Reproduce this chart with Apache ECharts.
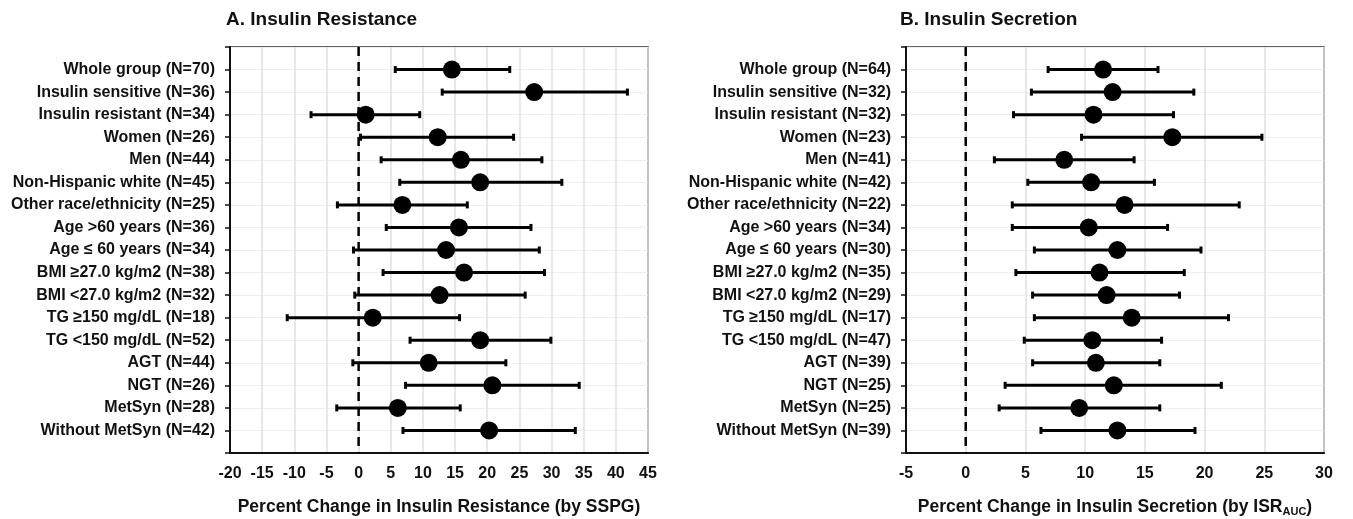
<!DOCTYPE html>
<html>
<head>
<meta charset="utf-8">
<script src="https://cdn.jsdelivr.net/npm/echarts@6/dist/echarts.min.js"></script>
<style>
  html, body { margin: 0; padding: 0; background: #fff; }
  #chart { width: 1353px; height: 519px; }
</style>
</head>
<body>
<div id="chart"></div>
<script>
// data
var groupsA = ['Whole group (N=70)', 'Insulin sensitive (N=36)', 'Insulin resistant (N=34)', 'Women (N=26)', 'Men (N=44)',
  'Non-Hispanic white (N=45)', 'Other race/ethnicity (N=25)', 'Age >60 years (N=36)', 'Age \u2264 60 years (N=34)',
  'BMI \u226527.0 kg/m2 (N=38)', 'BMI <27.0 kg/m2 (N=32)', 'TG \u2265150 mg/dL (N=18)', 'TG <150 mg/dL (N=52)',
  'AGT (N=44)', 'NGT (N=26)', 'MetSyn (N=28)', 'Without MetSyn (N=42)'];
var meanA = [14.5, 27.3, 1.1, 12.3, 15.9, 18.9, 6.8, 15.6, 13.6, 16.4, 12.6, 2.2, 18.9, 10.9, 20.8, 6.1, 20.3];
var lowA  = [5.7, 13.0, -7.4, 0.3, 3.5, 6.4, -3.3, 4.3, -0.8, 3.8, -0.6, -11.1, 8.0, -0.9, 7.3, -3.4, 6.9];
var highA = [23.5, 41.8, 9.5, 24.1, 28.5, 31.6, 16.9, 26.8, 28.1, 28.9, 25.9, 15.7, 29.9, 22.9, 34.3, 15.8, 33.7];

var groupsB = ['Whole group (N=64)', 'Insulin sensitive (N=32)', 'Insulin resistant (N=32)', 'Women (N=23)', 'Men (N=41)',
  'Non-Hispanic white (N=42)', 'Other race/ethnicity (N=22)', 'Age >60 years (N=34)', 'Age \u2264 60 years (N=30)',
  'BMI \u226527.0 kg/m2 (N=35)', 'BMI <27.0 kg/m2 (N=29)', 'TG \u2265150 mg/dL (N=17)', 'TG <150 mg/dL (N=47)',
  'AGT (N=39)', 'NGT (N=25)', 'MetSyn (N=25)', 'Without MetSyn (N=39)'];
var meanB = [11.5, 12.3, 10.7, 17.3, 8.25, 10.5, 13.3, 10.3, 12.7, 11.2, 11.8, 13.9, 10.6, 10.9, 12.4, 9.5, 12.7];
var lowB  = [6.9, 5.5, 4.0, 9.7, 2.4, 5.2, 3.9, 3.9, 5.75, 4.2, 5.6, 5.75, 4.9, 5.6, 3.3, 2.8, 6.3];
var highB = [16.1, 19.1, 17.4, 24.8, 14.1, 15.8, 22.9, 16.9, 19.7, 18.3, 17.9, 22.0, 16.4, 16.25, 21.4, 16.25, 19.2];

var myChart = echarts.init(document.getElementById('chart'));
var font = 'Liberation Sans, Arial, sans-serif';
var nRows = groupsA.length;

// rows sit at 1..17 on a 0..18 axis so there is a half step of space at each end
function barData(low, high) {
  return low.map(function (v, i) { return [v, high[i], i + 1]; });
}
function dotData(mean) {
  return mean.map(function (v, i) { return [v, i + 1]; });
}

function renderBar(params, api) {
  var lo = api.coord([api.value(0), api.value(2)]);
  var hi = api.coord([api.value(1), api.value(2)]);
  var cap = 3.5;
  var st = { stroke: '#000', lineWidth: 3 };
  return {
    type: 'group',
    children: [
      { type: 'line', shape: { x1: lo[0], y1: lo[1], x2: hi[0], y2: hi[1] }, style: st },
      { type: 'line', shape: { x1: lo[0], y1: lo[1] - cap, x2: lo[0], y2: lo[1] + cap }, style: st },
      { type: 'line', shape: { x1: hi[0], y1: hi[1] - cap, x2: hi[0], y2: hi[1] + cap }, style: st }
    ]
  };
}

function yAxisOf(gi, cats) {
  return {
    type: 'value', gridIndex: gi, min: 0, max: nRows + 1, interval: 1, inverse: true,
    axisLine: { onZero: false, lineStyle: { color: '#111', width: 2 } },
    axisTick: { length: 5, lineStyle: { color: '#111', width: 1.5 } },
    axisLabel: {
      color: '#111', fontFamily: font, fontWeight: 'bold', fontSize: 16, margin: 15,
      formatter: function (v) { return cats[v - 1] || ''; }
    },
    splitLine: { show: true, lineStyle: { color: '#efefef', width: 1 } }
  };
}

function xAxisOf(gi, min, max, name) {
  return {
    type: 'value', gridIndex: gi, min: min, max: max, interval: 5,
    name: name, nameLocation: 'middle', nameGap: 45,
    nameTextStyle: {
      color: '#111', fontFamily: font, fontWeight: 'bold', fontSize: 17.5,
      rich: {
        a: { color: '#111', fontFamily: font, fontWeight: 'bold', fontSize: 17.5 },
        sub: { color: '#111', fontFamily: font, fontWeight: 'bold', fontSize: 11, verticalAlign: 'bottom', padding: [8, 0, 0, 0] }
      }
    },
    axisLine: { onZero: false, lineStyle: { color: '#111', width: 2 } },
    axisTick: { show: false },
    axisLabel: { color: '#111', fontFamily: font, fontWeight: 'bold', fontSize: 16, margin: 13 },
    splitLine: { show: true, lineStyle: { color: '#e0e0e0', width: 1.5 } }
  };
}

var zeroA = [[0, 0], [0, nRows + 1]];
var zeroB = [[0, 0], [0, nRows + 1]];

function zeroSeries(gi, data) {
  return {
    type: 'line', xAxisIndex: gi, yAxisIndex: gi, data: data, symbol: 'none', silent: true,
    lineStyle: { color: '#000', type: [9, 6], width: 2.5 }, z: 2
  };
}

var option = {
  animation: false,
  textStyle: { fontFamily: font },
  title: [
    { text: 'A. Insulin Resistance', left: 221, top: 5, textStyle: { fontFamily: font, fontSize: 19, fontWeight: 'bold', color: '#111' } },
    { text: 'B. Insulin Secretion', left: 895, top: 5, textStyle: { fontFamily: font, fontSize: 19, fontWeight: 'bold', color: '#111' } }
  ],
  grid: [
    { left: 230, right: 705, top: 47, bottom: 66, outerBoundsMode: 'none', show: true, borderColor: '#333', borderWidth: 1.5 },
    { left: 906, right: 29, top: 47, bottom: 66, outerBoundsMode: 'none', show: true, borderColor: '#333', borderWidth: 1.5 }
  ],
  xAxis: [
    xAxisOf(0, -20, 45, 'Percent Change in Insulin Resistance (by SSPG)'),
    xAxisOf(1, -5, 30, '{a|Percent Change in Insulin Secretion (by ISR}{sub|AUC}{a|)}')
  ],
  yAxis: [yAxisOf(0, groupsA), yAxisOf(1, groupsB)],
  series: [
    zeroSeries(0, zeroA),
    { type: 'custom', xAxisIndex: 0, yAxisIndex: 0, renderItem: renderBar, data: barData(lowA, highA),
      encode: { x: [0, 1], y: 2 }, z: 3 },
    { type: 'scatter', xAxisIndex: 0, yAxisIndex: 0, data: dotData(meanA), symbolSize: 18,
      itemStyle: { color: '#000', opacity: 1 }, z: 4 },
    zeroSeries(1, zeroB),
    { type: 'custom', xAxisIndex: 1, yAxisIndex: 1, renderItem: renderBar, data: barData(lowB, highB),
      encode: { x: [0, 1], y: 2 }, z: 3 },
    { type: 'scatter', xAxisIndex: 1, yAxisIndex: 1, data: dotData(meanB), symbolSize: 18,
      itemStyle: { color: '#000', opacity: 1 }, z: 4 }
  ]
};
myChart.setOption(option);
</script>
</body>
</html>
